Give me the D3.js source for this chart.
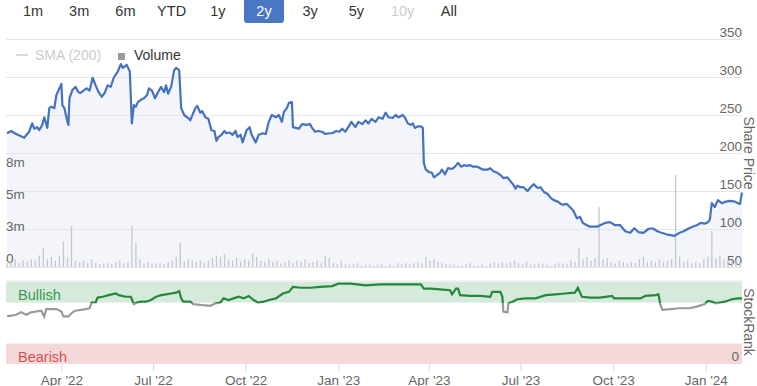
<!DOCTYPE html>
<html><head><meta charset="utf-8">
<script src="https://cdn.jsdelivr.net/npm/d3@7"></script>
<style>body{margin:0;background:#fff}svg{display:block;font-family:"Liberation Sans",Arial,sans-serif}</style>
</head><body><svg id="c" width="757" height="386"></svg>
<script>
const rangeButtons = ["1m","3m","6m","YTD","1y","2y","3y","5y","10y","All"];
const selectedRange = "2y";
const disabledRange = "10y";

const priceDates = ["2022-02-06","2022-02-10","2022-02-15","2022-02-20","2022-02-23","2022-02-28","2022-03-03","2022-03-05","2022-03-08","2022-03-10","2022-03-13","2022-03-15","2022-03-18","2022-03-20","2022-03-22","2022-03-25","2022-03-27","2022-03-30","2022-04-01","2022-04-02","2022-04-04","2022-04-07","2022-04-08","2022-04-09","2022-04-12","2022-04-15","2022-04-18","2022-04-20","2022-04-23","2022-04-26","2022-04-29","2022-05-02","2022-05-05","2022-05-08","2022-05-11","2022-05-14","2022-05-17","2022-05-20","2022-05-23","2022-05-27","2022-05-30","2022-06-01","2022-06-05","2022-06-08","2022-06-10","2022-06-12","2022-06-14","2022-06-16","2022-06-19","2022-06-22","2022-06-25","2022-06-27","2022-06-30","2022-07-03","2022-07-06","2022-07-09","2022-07-12","2022-07-14","2022-07-16","2022-07-19","2022-07-22","2022-07-24","2022-07-27","2022-07-29","2022-08-01","2022-08-05","2022-08-07","2022-08-12","2022-08-14","2022-08-17","2022-08-19","2022-08-22","2022-08-25","2022-08-28","2022-08-31","2022-09-02","2022-09-04","2022-09-07","2022-09-10","2022-09-12","2022-09-15","2022-09-18","2022-09-21","2022-09-23","2022-09-26","2022-09-28","2022-10-02","2022-10-05","2022-10-07","2022-10-11","2022-10-14","2022-10-18","2022-10-21","2022-10-24","2022-10-27","2022-10-31","2022-11-03","2022-11-06","2022-11-08","2022-11-11","2022-11-13","2022-11-16","2022-11-17","2022-11-20","2022-11-23","2022-11-26","2022-11-30","2022-12-04","2022-12-06","2022-12-09","2022-12-12","2022-12-16","2022-12-19","2022-12-23","2022-12-26","2022-12-30","2023-01-02","2023-01-05","2023-01-08","2023-01-11","2023-01-14","2023-01-18","2023-01-21","2023-01-25","2023-01-28","2023-01-31","2023-02-03","2023-02-07","2023-02-10","2023-02-14","2023-02-17","2023-02-20","2023-02-24","2023-02-27","2023-03-02","2023-03-06","2023-03-08","2023-03-11","2023-03-14","2023-03-16","2023-03-18","2023-03-21","2023-03-24","2023-03-26","2023-03-27","2023-03-29","2023-04-01","2023-04-04","2023-04-06","2023-04-10","2023-04-12","2023-04-14","2023-04-17","2023-04-20","2023-04-24","2023-04-27","2023-04-30","2023-05-03","2023-05-06","2023-05-09","2023-05-12","2023-05-15","2023-05-19","2023-05-22","2023-05-25","2023-05-29","2023-06-01","2023-06-04","2023-06-08","2023-06-11","2023-06-14","2023-06-18","2023-06-21","2023-06-24","2023-06-26","2023-06-28","2023-07-01","2023-07-04","2023-07-08","2023-07-11","2023-07-14","2023-07-18","2023-07-21","2023-07-24","2023-07-28","2023-07-31","2023-08-03","2023-08-07","2023-08-10","2023-08-12","2023-08-16","2023-08-19","2023-08-22","2023-08-24","2023-08-26","2023-08-29","2023-09-01","2023-09-05","2023-09-08","2023-09-11","2023-09-15","2023-09-18","2023-09-23","2023-09-28","2023-10-03","2023-10-08","2023-10-13","2023-10-18","2023-10-22","2023-10-26","2023-10-31","2023-11-05","2023-11-09","2023-11-14","2023-11-18","2023-11-23","2023-11-27","2023-12-01","2023-12-06","2023-12-10","2023-12-14","2023-12-19","2023-12-23","2023-12-27","2023-12-31","2024-01-03","2024-01-05","2024-01-07","2024-01-10","2024-01-13","2024-01-17","2024-01-21","2024-01-25","2024-01-30","2024-02-02","2024-02-04","2024-02-06"];
const priceValues = [226,229,225,222,220,228,239,232,234,230,237,247,233,259,261,259,276,285,291,263,259,241,237,272,283,287,280,279,282,285,282,299,289,280,274,279,289,287,299,307,317,312,316,307,239,263,261,267,270,272,276,285,282,272,280,287,280,289,278,287,309,312,309,259,250,246,243,259,262,253,255,247,245,230,229,216,221,224,229,226,227,224,229,221,224,214,230,234,224,214,224,226,225,241,250,247,250,241,254,259,266,267,234,233,232,238,237,238,233,228,229,228,225,226,226,229,228,232,228,234,241,234,241,238,243,239,245,241,247,245,253,247,246,250,247,250,247,239,237,239,233,235,235,233,187,178,175,174,168,172,174,178,172,180,179,182,187,182,184,183,184,182,182,180,178,178,180,176,174,171,167,168,163,158,153,157,155,155,150,155,159,154,155,149,146,141,138,136,133,132,133,129,125,120,114,116,108,105,103,103,103,105,108,109,105,105,97,95,101,96,95,100,101,97,95,93,92,91,95,97,100,103,105,108,107,109,112,134,129,138,134,136,137,136,134,133,148];

const volumeStart = "2022-02-06";
const volumeStepDays = 4;
const volumeMillions = [0.3,0.4,0.6,0.3,0.5,0.4,0.6,0.5,0.9,1.5,
0.6,0.8,0.5,0.9,2.0,0.7,3.2,0.5,0.4,0.5,
0.3,0.6,0.3,0.2,0.3,0.3,0.2,0.4,0.5,0.3,
0.4,3.2,1.9,0.6,0.3,0.4,0.2,0.3,0.3,0.2,
0.4,0.5,0.8,1.9,0.4,0.6,0.5,0.4,0.5,0.3,
0.5,0.7,0.9,0.8,1.0,0.6,0.5,0.7,0.4,0.6,
0.5,1.1,0.8,0.5,0.4,0.6,0.4,0.5,0.3,0.4,
0.5,0.3,0.5,0.4,0.6,0.3,0.4,0.5,0.3,0.9,
0.7,0.3,0.2,0.5,0.2,0.2,0.2,0.3,0.1,0.2,
0.2,0.1,0.2,0.2,0.1,0.2,0.1,0.3,0.2,0.3,
0.2,0.3,0.4,0.3,0.8,0.5,0.6,0.4,0.3,0.2,
0.2,0.2,0.1,0.1,0.2,0.3,0.1,0.1,0.2,0.1,
0.3,0.4,0.3,0.4,0.3,0.4,0.5,0.3,0.2,0.4,
0.2,0.2,0.3,0.2,0.2,0.1,0.2,0.3,0.3,0.2,
0.5,0.4,1.5,0.6,0.8,0.5,0.7,4.7,0.6,0.7,
0.4,0.3,0.5,0.4,0.3,0.4,0.3,0.6,0.8,0.4,
0.5,0.4,0.6,0.4,0.5,0.6,7.2,0.8,0.4,0.5,
0.3,0.4,0.3,0.6,0.8,2.8,0.7,0.9,0.6,0.5,
0.4,0.5,0.4];

const rankDates = ["2022-02-06","2022-02-15","2022-02-20","2022-02-25","2022-03-02","2022-03-07","2022-03-12","2022-03-15","2022-03-17","2022-03-27","2022-04-01","2022-04-03","2022-04-08","2022-04-12","2022-04-15","2022-04-25","2022-04-29","2022-05-01","2022-05-05","2022-05-07","2022-05-12","2022-05-18","2022-05-25","2022-05-28","2022-06-04","2022-06-09","2022-06-12","2022-06-15","2022-06-19","2022-06-24","2022-06-29","2022-07-04","2022-07-09","2022-07-14","2022-07-19","2022-07-24","2022-07-27","2022-07-29","2022-07-31","2022-08-07","2022-08-10","2022-08-17","2022-08-27","2022-09-01","2022-09-06","2022-09-09","2022-09-14","2022-09-19","2022-09-24","2022-09-29","2022-10-04","2022-10-09","2022-10-13","2022-10-19","2022-10-24","2022-10-31","2022-11-07","2022-11-13","2022-11-17","2022-11-25","2022-12-05","2022-12-14","2022-12-26","2023-01-01","2023-01-13","2023-01-28","2023-02-12","2023-03-04","2023-03-24","2023-03-27","2023-04-03","2023-04-12","2023-04-22","2023-04-24","2023-04-28","2023-04-30","2023-05-02","2023-05-12","2023-05-22","2023-06-01","2023-06-03","2023-06-11","2023-06-13","2023-06-14","2023-06-18","2023-06-19","2023-06-23","2023-06-28","2023-07-06","2023-07-16","2023-07-26","2023-08-05","2023-08-14","2023-08-24","2023-08-27","2023-08-31","2023-09-08","2023-09-18","2023-09-30","2023-10-02","2023-10-28","2023-11-02","2023-11-12","2023-11-15","2023-11-17","2023-11-19","2023-11-27","2023-12-06","2023-12-16","2023-12-23","2023-12-31","2024-01-03","2024-01-07","2024-01-11","2024-01-20","2024-01-27","2024-02-02","2024-02-06"];
const rankValues = [58,60,63,60,63,64,65,58,67,67,64,58,58,63,65,67,68,75,75,81,82,84,86,84,82,82,73,75,76,76,78,82,84,85,86,87,89,80,76,76,73,72,71,74,75,80,78,80,82,80,83,78,75,76,78,80,86,88,94,93,93,94,95,98,98,96,97,97,97,92,92,91,90,85,92,92,84,83,83,82,88,88,82,64,63,74,76,79,80,80,84,85,86,87,93,82,81,81,83,80,80,83,84,85,72,66,67,68,68,70,73,77,76,74,76,79,80,80];

const priceTicks = [50,100,150,200,250,300,350];
const volumeTicks = [0,2.5,5,7.5];
const rankTicks = [0];
const xTickDates = ["2022-04-01","2022-07-01","2022-10-01","2023-01-01","2023-04-01","2023-07-01","2023-10-01","2024-01-01"];
const bullishFrom = 75, bearishTo = 25;

const parse = d3.utcParse("%Y-%m-%d");
const svg = d3.select("#c");
const L = 6, R = 742;
const font = "\"Liberation Sans\", Arial, sans-serif";

const x = d3.scaleUtc().domain([parse("2022-02-05"), parse("2024-02-06")]).range([L, R]);
const yP = d3.scaleLinear().domain([50, 350]).range([267, 39]);
const yV = d3.scaleLinear().domain([0, 7.5]).range([267, 171]);
const yR = d3.scaleLinear().domain([0, 100]).range([364, 282]);

// range selector buttons
const bx = d3.scalePoint().domain(rangeButtons).range([33, 448.8]);
const btn = svg.append("g").selectAll("g").data(rangeButtons).join("g")
  .attr("transform", d => `translate(${bx(d)},0)`);
btn.filter(d => d === selectedRange).append("rect")
  .attr("x", -20).attr("y", -4).attr("width", 40).attr("height", 27).attr("rx", 3)
  .attr("fill", "#4b76c4");
btn.append("text").attr("y", 16).attr("text-anchor", "middle")
  .attr("font-size", 14.5)
  .attr("fill", d => d === selectedRange ? "#fff" : d === disabledRange ? "#ccc" : "#333")
  .text(d => d);

// price area
const price = priceDates.map((d, i) => ({ date: parse(d), v: priceValues[i] }));
svg.append("path").datum(price)
  .attr("fill", "#f3f5fb")
  .attr("d", d3.area().x(d => x(d.date)).y0(yP(50)).y1(d => yP(d.v)));

// price axis with grid
const gP = svg.append("g").attr("transform", `translate(${R},0)`)
  .call(d3.axisRight(yP).tickValues(priceTicks).tickSize(-(R - L)).tickFormat(d3.format("d")));
gP.select(".domain").remove();
gP.selectAll(".tick line").attr("stroke", "#e6e6e6");
gP.selectAll(".tick text").attr("x", 0).attr("y", -2.5).attr("dy", 0)
  .attr("text-anchor", "end").attr("fill", "#666").attr("font-size", 13.5).attr("font-family", font);

// volume axis labels
const gV = svg.append("g").attr("transform", `translate(${L},0)`)
  .call(d3.axisRight(yV).tickValues(volumeTicks).tickSize(0)
    .tickFormat(v => v === 0 ? "0" : Math.round(v) + "m"));
gV.select(".domain").remove();
gV.selectAll(".tick text").attr("x", 0).attr("y", -5).attr("dy", 0)
  .attr("text-anchor", "start").attr("fill", "#666").attr("font-size", 13.5).attr("font-family", font);

// volume bars
const t0 = parse(volumeStart);
const vol = volumeMillions.map((v, i) => ({ date: d3.utcDay.offset(t0, i * volumeStepDays), v }));
svg.append("g").selectAll("rect").data(vol).join("rect")
  .attr("x", d => x(d.date) - 0.6).attr("width", 1.3)
  .attr("y", d => yV(d.v)).attr("height", d => yV(0) - yV(d.v))
  .attr("fill", "#c4c7cd");

// price line
svg.append("path").datum(price)
  .attr("fill", "none").attr("stroke", "#4472c0").attr("stroke-width", 2.2)
  .attr("stroke-linejoin", "round")
  .attr("d", d3.line().x(d => x(d.date)).y(d => yP(d.v)));

// legend
const lg = svg.append("g").attr("font-size", 14).attr("font-family", font);
lg.append("line").attr("x1", 16).attr("x2", 28).attr("y1", 55).attr("y2", 55).attr("stroke", "#ccc").attr("stroke-width", 1.5);
lg.append("text").attr("x", 35).attr("y", 60).attr("fill", "#ccc").text("SMA (200)");
lg.append("rect").attr("x", 118).attr("y", 53).attr("width", 7).attr("height", 7).attr("fill", "#999");
lg.append("text").attr("x", 134).attr("y", 60).attr("fill", "#333").text("Volume");

svg.append("text").attr("transform", "translate(744,153) rotate(90)")
  .attr("text-anchor", "middle").attr("font-size", 14).attr("fill", "#666").text("Share Price");

// StockRank panel
svg.append("line").attr("x1", L).attr("x2", R).attr("y1", yR(100) - 1).attr("y2", yR(100) - 1).attr("stroke", "#e6e6e6");
svg.append("rect").attr("x", L).attr("width", R - L).attr("y", yR(100)).attr("height", yR(bullishFrom) - yR(100)).attr("fill", "#d5eadb");
svg.append("rect").attr("x", L).attr("width", R - L).attr("y", yR(bearishTo)).attr("height", yR(0) - yR(bearishTo)).attr("fill", "#f5d8d9");
svg.append("text").attr("x", 18).attr("y", 300).attr("font-size", 14.5).attr("fill", "#3a9a4f").text("Bullish");
svg.append("text").attr("x", 18).attr("y", 362).attr("font-size", 14.5).attr("fill", "#d9534f").text("Bearish");

const defs = svg.append("defs");
defs.append("clipPath").attr("id", "above").append("rect")
  .attr("x", 0).attr("y", 0).attr("width", 757).attr("height", yR(bullishFrom) + 0.5);
defs.append("clipPath").attr("id", "below").append("rect")
  .attr("x", 0).attr("y", yR(bullishFrom) + 0.5).attr("width", 757).attr("height", 386);
const rank = rankDates.map((d, i) => ({ date: parse(d), v: rankValues[i] }));
const rl = d3.line().x(d => x(d.date)).y(d => yR(d.v));
svg.append("path").datum(rank).attr("clip-path", "url(#below)")
  .attr("fill", "none").attr("stroke", "#9a9a9a").attr("stroke-width", 2.2).attr("d", rl);
svg.append("path").datum(rank).attr("clip-path", "url(#above)")
  .attr("fill", "none").attr("stroke", "#23893a").attr("stroke-width", 2.2).attr("d", rl);

const gR = svg.append("g").attr("transform", `translate(${R},0)`)
  .call(d3.axisRight(yR).tickValues(rankTicks).tickSize(0));
gR.select(".domain").remove();
gR.selectAll(".tick text").attr("x", -3).attr("y", -3.5).attr("dy", 0)
  .attr("text-anchor", "end").attr("fill", "#666").attr("font-size", 13.5).attr("font-family", font);

svg.append("text").attr("transform", "translate(744,322) rotate(90)")
  .attr("text-anchor", "middle").attr("font-size", 14).attr("fill", "#666").text("StockRank");

// x axis
const gX = svg.append("g").attr("transform", `translate(0,364)`)
  .call(d3.axisBottom(x).tickValues(xTickDates.map(parse)).tickSize(7).tickFormat(d3.utcFormat("%b '%y")));
gX.select(".domain").remove();
gX.selectAll(".tick line").attr("stroke", "#ccd6eb");
gX.selectAll(".tick text").attr("y", 20.5).attr("dy", 0)
  .attr("fill", "#666").attr("font-size", 13.5).attr("font-family", font);
</script></body></html>
